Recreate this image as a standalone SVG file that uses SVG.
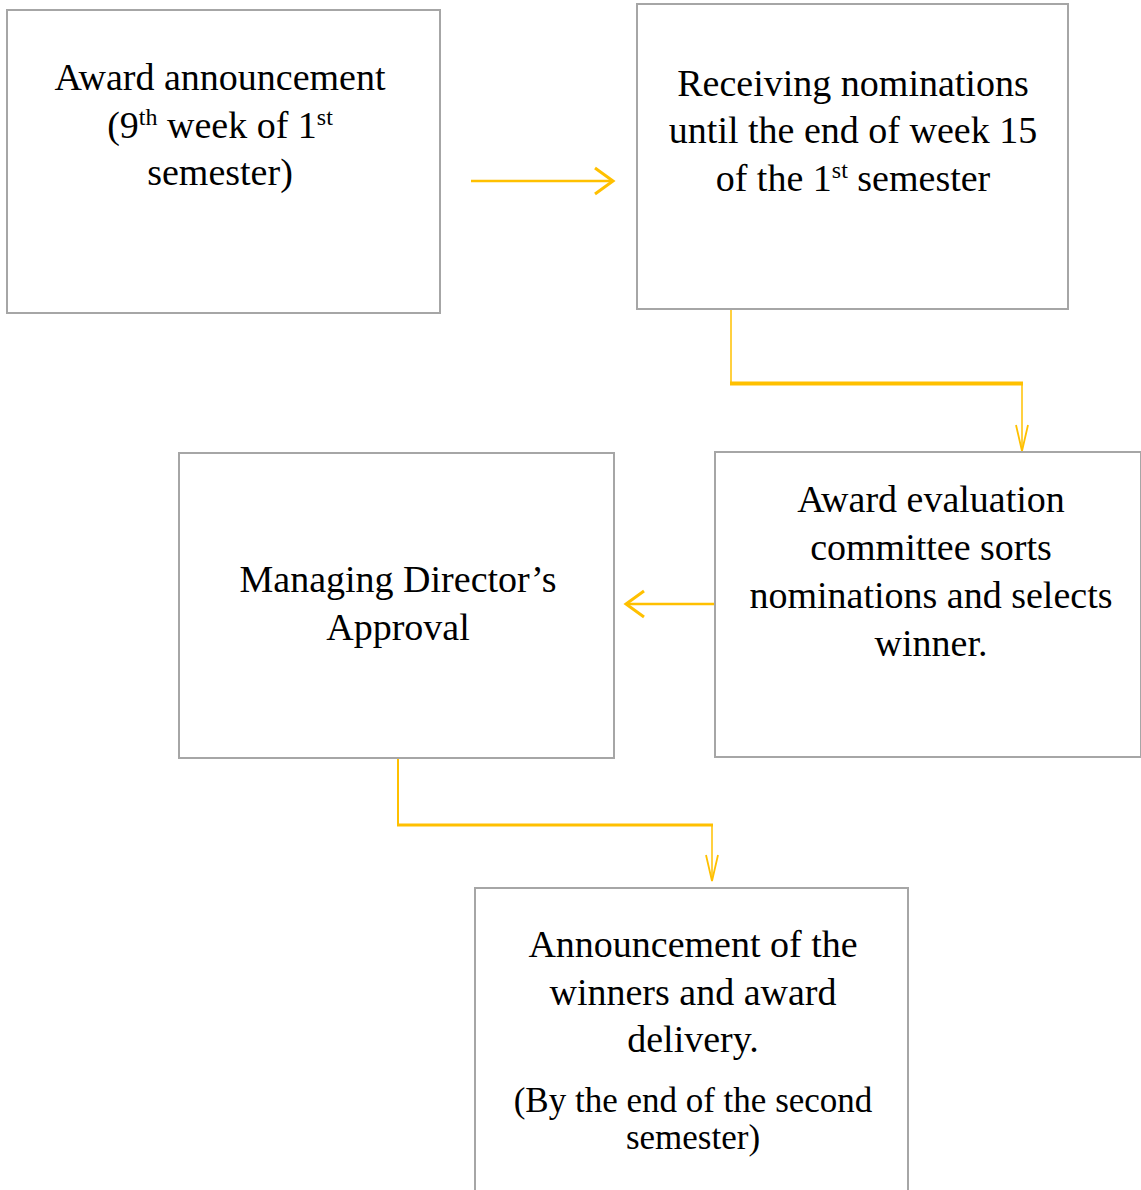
<svg xmlns="http://www.w3.org/2000/svg" width="1141" height="1190" viewBox="0 0 1141 1190">
<defs>
<style>
.box{fill:#ffffff;stroke:#a6a6a6;stroke-width:2}
.t{font-family:"Liberation Serif","Times New Roman",serif;font-size:38px;fill:#000;text-anchor:middle}
.s{font-family:"Liberation Serif","Times New Roman",serif;font-size:35px;fill:#000;text-anchor:middle}
.sup{font-size:24px}
.c{fill:none;stroke:#FFC000;stroke-linecap:butt}
</style>
<marker id="big" markerUnits="userSpaceOnUse" markerWidth="24" markerHeight="30" refX="18" refY="13" orient="auto" overflow="visible">
<path d="M0,0 L18,13 L0,26" fill="none" stroke="#FFC000" stroke-width="3"/>
</marker>
<marker id="small" markerUnits="userSpaceOnUse" markerWidth="30" markerHeight="16" refX="26" refY="6" orient="auto" overflow="visible">
<path d="M0,0 L26,6 L0,12" fill="none" stroke="#FFC000" stroke-width="1.8"/>
</marker>
</defs>
<rect width="1141" height="1190" fill="#ffffff"/>
<g id="connectors">
<line class="c" x1="471" y1="181" x2="613" y2="181" stroke-width="2.5" marker-end="url(#big)"/>
<line class="c" x1="731" y1="310" x2="731" y2="384" stroke-width="1.5"/>
<line class="c" x1="730" y1="383.5" x2="1023" y2="383.5" stroke-width="4"/>
<line class="c" x1="1022" y1="382" x2="1022" y2="451" stroke-width="1.5" marker-end="url(#small)"/>
<line class="c" x1="715" y1="604" x2="626" y2="604" stroke-width="2.5" marker-end="url(#big)"/>
<line class="c" x1="398" y1="759" x2="398" y2="826" stroke-width="2"/>
<line class="c" x1="397" y1="825" x2="713" y2="825" stroke-width="3"/>
<line class="c" x1="712" y1="824" x2="712" y2="881" stroke-width="1.5" marker-end="url(#small)"/>
</g>
<g id="node1">
<rect class="box" x="7" y="10" width="433" height="303"/>
<text class="t" x="220" y="90">Award announcement</text>
<text class="t" x="220" y="138">(9<tspan class="sup" dy="-13">th</tspan><tspan dy="13"> week of 1</tspan><tspan class="sup" dy="-13">st</tspan></text>
<text class="t" x="220" y="185">semester)</text>
</g>
<g id="node2">
<rect class="box" x="637" y="4" width="431" height="305"/>
<text class="t" x="853" y="96">Receiving nominations</text>
<text class="t" x="853" y="143">until the end of week 15</text>
<text class="t" x="853" y="191">of the 1<tspan class="sup" dy="-13">st</tspan><tspan dy="13"> semester</tspan></text>
</g>
<g id="node3">
<rect class="box" x="715" y="452" width="426" height="305"/>
<text class="t" x="931" y="512">Award evaluation</text>
<text class="t" x="931" y="560">committee sorts</text>
<text class="t" x="931" y="608">nominations and selects</text>
<text class="t" x="931" y="656">winner.</text>
</g>
<g id="node4">
<rect class="box" x="179" y="453" width="435" height="305"/>
<text class="t" x="398" y="592">Managing Director’s</text>
<text class="t" x="398" y="640">Approval</text>
</g>
<g id="node5">
<rect class="box" x="475" y="888" width="433" height="310"/>
<text class="t" x="693" y="957">Announcement of the</text>
<text class="t" x="693" y="1005">winners and award</text>
<text class="t" x="693" y="1052">delivery.</text>
<text class="s" x="693" y="1112">(By the end of the second</text>
<text class="s" x="693" y="1149">semester)</text>
</g>
</svg>
